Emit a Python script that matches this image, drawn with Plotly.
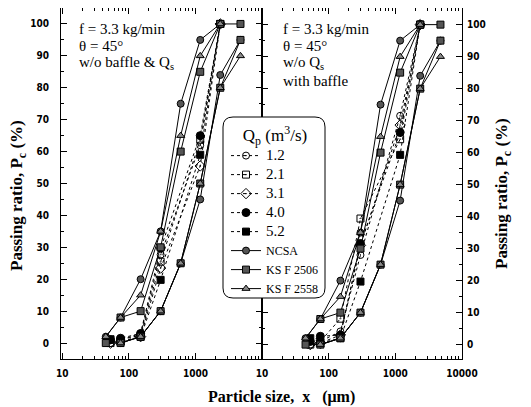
import plotly.graph_objects as go

# ---------------- data ----------------
qp_labels = ["1.2", "2.1", "3.1", "4.0", "5.2"]
exp_x = [53, 75, 150, 300, 1180, 2360]

# left panel: w/o baffle & Qs
left_12 = [0, 1, 3, 27.7, 62, 100]
left_21 = [0, 1, 2.5, 25.5, 63.7, 100]
left_31 = [0, 0.5, 2, 23.5, 55.5, 100]
left_40 = [1, 1.5, 3, 29.7, 65, 100]
left_52 = [1.2, 0.5, 1.9, 19.8, 59, 100]

# right panel: w/o Qs, with baffle
right_12 = [0, 1, 4.1, 28, 71.5, 100]
right_21 = [0, 1, 8.1, 39.4, 64.2, 100]
right_31 = [0, 0.5, 3, 31, 68.6, 100]
right_40 = [1, 2.6, 3, 31.6, 66.3, 100]
right_52 = [2, 0.5, 2, 19.7, 59.3, 100]

# gradation standards (upper / lower limits)
ncsa_up_x = [45, 75, 150, 300, 600, 1180, 2360]
ncsa_up_y = [2, 8, 20, 35, 75, 95, 100]
ncsa_lo_x = [75, 150, 300, 600, 1180, 2360, 4750]
ncsa_lo_y = [0, 2, 10, 25, 45, 84, 95]
ks2506_up_x = [75, 150, 300, 600, 1180, 2360, 4750]
ks2506_up_y = [8, 10, 30, 60, 85, 100, 100]
ks2506_lo_x = [45, 75, 150, 300, 600, 1180, 2360, 4750]
ks2506_lo_y = [0, 0, 2, 10, 25, 50, 80, 95]
ks2558_up_x = [45, 75, 150, 300, 600, 1180, 2360]
ks2558_up_y = [2, 8, 15, 35, 65, 90, 100]
ks2558_lo_x = [75, 150, 300, 600, 1180, 2360, 4750]
ks2558_lo_y = [0, 2, 10, 25, 50, 80, 90]

y_ticks = [0, 10, 20, 30, 40, 50, 60, 70, 80, 90, 100]
x_ticks_left = [10, 100, 1000]
x_ticks_right = [10, 100, 1000, 10000]
x_minor = [m * d for d in (10, 100, 1000) for m in range(2, 10)]

# ---------------- layout geometry (screen pixels) ----------------
W, H = 531, 407
OFF = 8                      # page body margin of the browser
L, R, T, B = 61, 462, 8, 359  # plot area on screen


def px(xp):
    return (xp - L) / (R - L)


def py(yp):
    return (B - yp) / (B - T)


serif = "Liberation Serif, Times New Roman, serif"
tickfont = dict(family="Liberation Sans Narrow, DejaVu Sans Condensed, Arial Narrow, sans-serif",
                size=10, color="black", weight="bold")

exp_styles = [
    dict(symbol="circle-open-dot", size=7, color="black", line=dict(width=1, color="black")),
    dict(symbol="square-open-dot", size=7, color="black", line=dict(width=1, color="black")),
    dict(symbol="diamond-open-dot", size=8, color="black", line=dict(width=1, color="black")),
    dict(symbol="circle", size=8, color="black", line=dict(width=1, color="black")),
    dict(symbol="square", size=7, color="black", line=dict(width=1, color="black")),
]
std_styles = {
    "NCSA": dict(symbol="circle", size=7, color="#555555", line=dict(width=1, color="black")),
    "KS F 2506": dict(symbol="square", size=7, color="#555555", line=dict(width=1, color="black")),
    "KS F 2558": dict(symbol="triangle-up", size=7, color="#8a8a8a", line=dict(width=1, color="black")),
}

fig = go.Figure()

panels = [
    ("x", "y", [left_12, left_21, left_31, left_40, left_52], True),
    ("x2", "y2", [right_12, right_21, right_31, right_40, right_52], False),
]

for xa, ya, series, show in panels:
    for lab, ys, st in zip(qp_labels, series, exp_styles):
        fig.add_trace(go.Scatter(
            x=exp_x, y=ys, name='<span style="font-size:15px">' + lab + '</span>',
            mode="lines+markers", xaxis=xa, yaxis=ya,
            line=dict(color="black", width=1, dash="dot"), marker=st,
            legendgroup=lab, showlegend=show))

stds = [
    ("NCSA", ncsa_up_x, ncsa_up_y, ncsa_lo_x, ncsa_lo_y),
    ("KS F 2506", ks2506_up_x, ks2506_up_y, ks2506_lo_x, ks2506_lo_y),
    ("KS F 2558", ks2558_up_x, ks2558_up_y, ks2558_lo_x, ks2558_lo_y),
]
for xa, ya, _, show in panels:
    for name, ux, uy, lx, ly in stds:
        for k, (xx, yy) in enumerate([(ux, uy), (lx, ly)]):
            fig.add_trace(go.Scatter(
                x=xx, y=yy, name='<span style="font-size:12px">' + name + '</span>',
                mode="lines+markers", xaxis=xa, yaxis=ya,
                line=dict(color="black", width=1), marker=std_styles[name],
                legendgroup=name, showlegend=(show and k == 0)))

axis_common = dict(showline=True, linecolor="black", linewidth=1, ticks="inside",
                   tickcolor="black", mirror="ticks", showgrid=False, zeroline=False,
                   tickfont=tickfont)

split = (262 - L) / (R - L)
fig.update_layout(
    width=W, height=H,
    margin=dict(l=L - OFF, r=W - (R - OFF), t=T - OFF, b=H - (B - OFF)),
    paper_bgcolor="white", plot_bgcolor="white",
    showlegend=True,
    xaxis=dict(domain=[0, split], type="log", range=[0.98, 4.0], anchor="y",
               tickvals=x_ticks_left, ticktext=[str(v) for v in x_ticks_left],
               ticklen=6, ticklabelstandoff=5,
               minor=dict(tickvals=x_minor, ticks="inside", ticklen=3, tickcolor="black"),
               **axis_common),
    xaxis2=dict(domain=[split, 1], type="log", range=[1.0, 4.0], anchor="y2",
                tickvals=x_ticks_right, ticktext=[str(v) for v in x_ticks_right],
                ticklen=6, ticklabelstandoff=5,
                minor=dict(tickvals=x_minor, ticks="inside", ticklen=3, tickcolor="black"),
                **axis_common),
    yaxis=dict(domain=[0, 1], range=[-5, 105.0], anchor="x", side="left",
               tickvals=y_ticks, ticklen=6, ticklabelstandoff=9,
               minor=dict(dtick=5, ticks="inside", ticklen=3, tickcolor="black"),
               **axis_common),
    yaxis2=dict(domain=[0, 1], range=[-4.5, 105.2], anchor="x2", side="right",
                tickvals=y_ticks, ticklen=6, ticklabelstandoff=2,
                minor=dict(dtick=5, ticks="inside", ticklen=3, tickcolor="black"),
                **axis_common),
    legend=dict(x=px(226), y=py(119), xanchor="left", yanchor="top",
                bgcolor="rgba(0,0,0,0)", borderwidth=0,
                font=dict(family=serif, size=12, color="black"),
                title=dict(text="Q<sub>p</sub> (m<sup>3</sup>/s)", side="top center",
                           font=dict(family=serif, size=17, color="black")),
                tracegroupgap=0, itemwidth=30),
)

# rounded legend frame
x0, x1, y0, y1 = px(223), px(325), py(117), py(298)
rx, ry = 10 / (R - L), 10 / (B - T)
path = (f"M {x0+rx},{y0} L {x1-rx},{y0} Q {x1},{y0} {x1},{y0-ry} "
        f"L {x1},{y1+ry} Q {x1},{y1} {x1-rx},{y1} L {x0+rx},{y1} "
        f"Q {x0},{y1} {x0},{y1+ry} L {x0},{y0-ry} Q {x0},{y0} {x0+rx},{y0} Z")
fig.add_shape(type="path", path=path, xref="paper", yref="paper",
              line=dict(color="black", width=1), fillcolor="white", layer="above")

# panel annotations
ann_font = dict(family=serif, size=15, color="black")
left_lines = [("f = 3.3 kg/min", 29), ("θ = 45°", 46), ("w/o baffle &amp; Q<sub>s</sub>", 63)]
right_lines = [("f = 3.3 kg/min", 29), ("θ = 45°", 46), ("w/o Q<sub>s</sub>", 63), ("with baffle", 81)]
for txt, yy in left_lines:
    fig.add_annotation(text=txt, x=px(77), y=py(yy), xref="paper", yref="paper",
                       xanchor="left", yanchor="middle", showarrow=False, font=ann_font)
for txt, yy in right_lines:
    fig.add_annotation(text=txt, x=px(281), y=py(yy), xref="paper", yref="paper",
                       xanchor="left", yanchor="middle", showarrow=False, font=ann_font)

title_font = dict(family=serif, size=17, color="black", weight="bold")
ytitle = "Passing ratio, P<sub>c</sub> (%)"
fig.add_annotation(text=ytitle, x=px(18), y=py(196), xref="paper", yref="paper",
                   textangle=-90, showarrow=False, font=title_font,
                   xanchor="center", yanchor="middle")
fig.add_annotation(text=ytitle, x=px(503), y=py(194), xref="paper", yref="paper",
                   textangle=-90, showarrow=False, font=title_font,
                   xanchor="center", yanchor="middle")
fig.add_annotation(text="Particle size,\u00a0 x \u00a0\u00a0(μm)", x=px(281), y=py(397),
                   xref="paper", yref="paper", showarrow=False,
                   font=dict(family=serif, size=16, color="black", weight="bold"),
                   xanchor="center", yanchor="middle")

fig.write_html("out.html")
